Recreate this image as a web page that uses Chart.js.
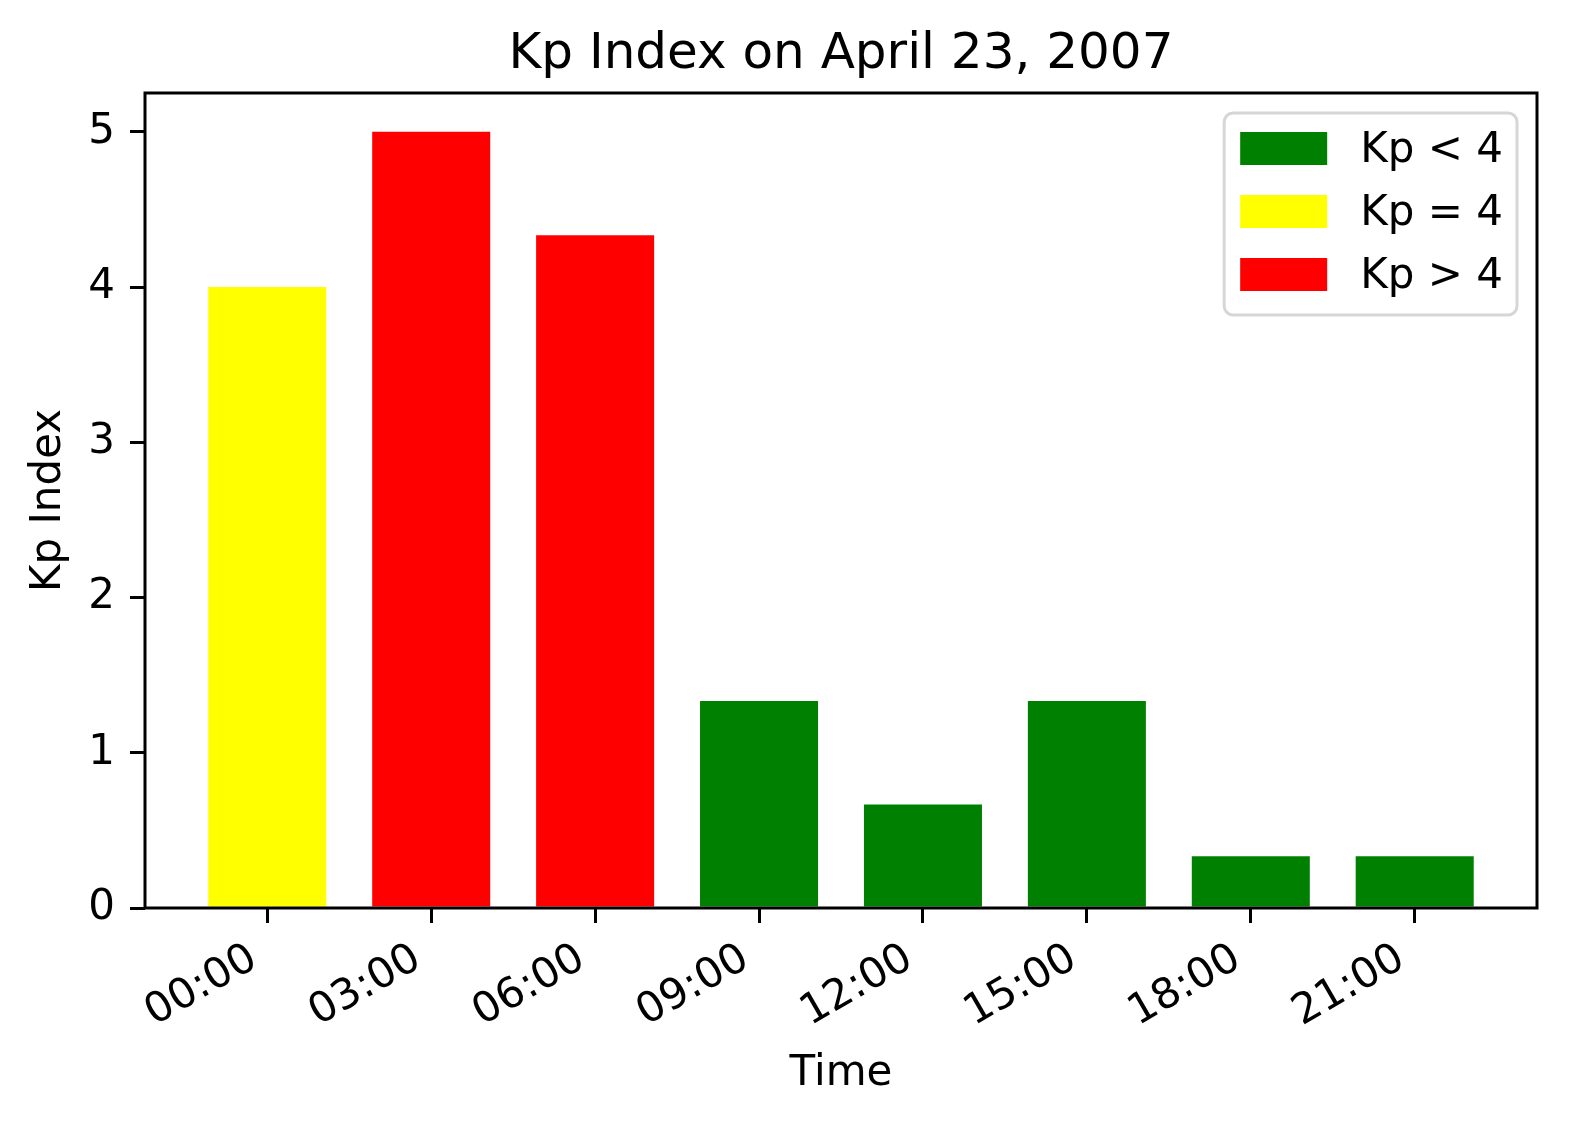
<!DOCTYPE html>
<html>
<head>
<meta charset="utf-8">
<title>Kp Index on April 23, 2007</title>
<script src="https://cdn.jsdelivr.net/npm/chart.js@4.4.0/dist/chart.umd.min.js"></script>
<style>
  html, body { margin: 0; padding: 0; background: #fff; }
  #wrap { width: 1569px; height: 1123px; }
</style>
</head>
<body>
<div id="wrap"><canvas id="kpChart"></canvas></div>
<script>
// 3-hour Kp values
const times = ['00:00', '03:00', '06:00', '09:00', '12:00', '15:00', '18:00', '21:00'];
const kpValues = [4, 5, 4.333, 1.333, 0.667, 1.333, 0.333, 0.333];
const yTicks = [0, 1, 2, 3, 4, 5];
const legendLabels = ['Kp < 4', 'Kp = 4', 'Kp > 4'];

const FONT = '"DejaVu Sans", "Liberation Sans", sans-serif';
Chart.defaults.color = '#000';
Chart.defaults.font.family = FONT;

function pointsWhere(test) {
    return kpValues
        .map((v, i) => ({ x: i, y: v }))
        .filter(p => test(p.y));
}

// spines + matplotlib-like legend box
const frameAndLegend = {
    id: 'frameAndLegend',
    afterDraw(chart) {
        const { ctx, chartArea: a } = chart;
        ctx.save();
        ctx.strokeStyle = '#000';
        ctx.lineWidth = 3;
        ctx.strokeRect(a.left, a.top, a.right - a.left, a.bottom - a.top);

        const items = chart.data.datasets;
        ctx.font = '42px ' + FONT;
        const textW = Math.max(...items.map(d => ctx.measureText(d.label).width));
        const boxW = 87, boxH = 33, padL = 16, gap = 33, padR = 14, rowH = 63, padT = 19, padB = 24;
        const w = padL + boxW + gap + textW + padR;
        const h = padT + rowH * (items.length - 1) + boxH + padB;
        const x0 = a.right - 20 - w;
        const y0 = a.top + 20;
        const r = 9;

        ctx.beginPath();
        ctx.moveTo(x0 + r, y0);
        ctx.lineTo(x0 + w - r, y0);
        ctx.arcTo(x0 + w, y0, x0 + w, y0 + r, r);
        ctx.lineTo(x0 + w, y0 + h - r);
        ctx.arcTo(x0 + w, y0 + h, x0 + w - r, y0 + h, r);
        ctx.lineTo(x0 + r, y0 + h);
        ctx.arcTo(x0, y0 + h, x0, y0 + h - r, r);
        ctx.lineTo(x0, y0 + r);
        ctx.arcTo(x0, y0, x0 + r, y0, r);
        ctx.closePath();
        ctx.fillStyle = 'rgba(255,255,255,0.8)';
        ctx.fill();
        ctx.strokeStyle = '#d6d6d6';
        ctx.lineWidth = 3;
        ctx.stroke();

        items.forEach((d, i) => {
            const top = y0 + padT + i * rowH;
            ctx.fillStyle = d.backgroundColor;
            ctx.fillRect(x0 + padL, top, boxW, boxH);
            ctx.fillStyle = '#000';
            ctx.textAlign = 'left';
            ctx.textBaseline = 'middle';
            ctx.fillText(d.label, x0 + padL + boxW + gap, top + boxH / 2 + 3);
        });
        ctx.restore();
    }
};

function createChart() {
    const ctx = document.getElementById('kpChart').getContext('2d');
    const barOpts = { grouped: false, barPercentage: 0.72, categoryPercentage: 1, borderWidth: 0 };
    new Chart(ctx, {
        type: 'bar',
        data: {
            datasets: [
                { label: legendLabels[0], data: pointsWhere(v => v < 4), backgroundColor: 'green', ...barOpts },
                { label: legendLabels[1], data: pointsWhere(v => v === 4), backgroundColor: 'yellow', ...barOpts },
                { label: legendLabels[2], data: pointsWhere(v => v > 4), backgroundColor: 'red', ...barOpts }
            ]
        },
        options: {
            responsive: true,
            maintainAspectRatio: false,
            animation: false,
            layout: { padding: { top: 0, right: 32, bottom: 0, left: 0 } },
            plugins: {
                legend: { display: false },
                tooltip: { enabled: false },
                title: {
                    display: true,
                    fullSize: false,
                    text: 'Kp Index on April 23, 2007',
                    color: '#000',
                    font: { size: 50, weight: 'normal' },
                    padding: { top: 25, bottom: 8 }
                }
            },
            scales: {
                x: {
                    type: 'linear',
                    offset: false,
                    min: -0.746,
                    max: 7.746,
                    afterFit: (scale) => {
                        scale.height = 215;
                        scale.paddingLeft = 0;
                        scale.paddingRight = 0;
                    },
                    afterBuildTicks: (scale) => {
                        scale.ticks = times.map((_, i) => ({ value: i }));
                    },
                    border: { display: false },
                    grid: { offset: false, drawOnChartArea: false, color: '#000', lineWidth: 3, tickLength: 15 },
                    ticks: {
                        autoSkip: false,
                        minRotation: 30,
                        maxRotation: 30,
                        padding: 11,
                        labelOffset: -26,
                        showLabelBackdrop: true,
                        backdropColor: 'rgba(0,0,0,0)',
                        backdropPadding: 0,
                        font: { size: 42 },
                        callback: (value) => times[value]
                    },
                    title: {
                        display: true,
                        text: 'Time',
                        font: { size: 42 },
                        padding: { top: 0, bottom: 24 }
                    }
                },
                y: {
                    min: 0,
                    max: 5.25,
                    afterFit: (scale) => {
                        scale.width = 145;
                        scale.paddingTop = 0;
                        scale.paddingBottom = 0;
                    },
                    afterBuildTicks: (scale) => {
                        scale.ticks = yTicks.map(v => ({ value: v }));
                    },
                    border: { display: false },
                    grid: { drawOnChartArea: false, color: '#000', lineWidth: 3, tickLength: 15 },
                    ticks: {
                        padding: 15,
                        font: { size: 42 }
                    },
                    title: {
                        display: true,
                        text: 'Kp Index',
                        font: { size: 42 },
                        padding: { top: 24, bottom: 0 }
                    }
                }
            }
        },
        plugins: [frameAndLegend]
    });
}

window.onload = createChart;
</script>
</body>
</html>
